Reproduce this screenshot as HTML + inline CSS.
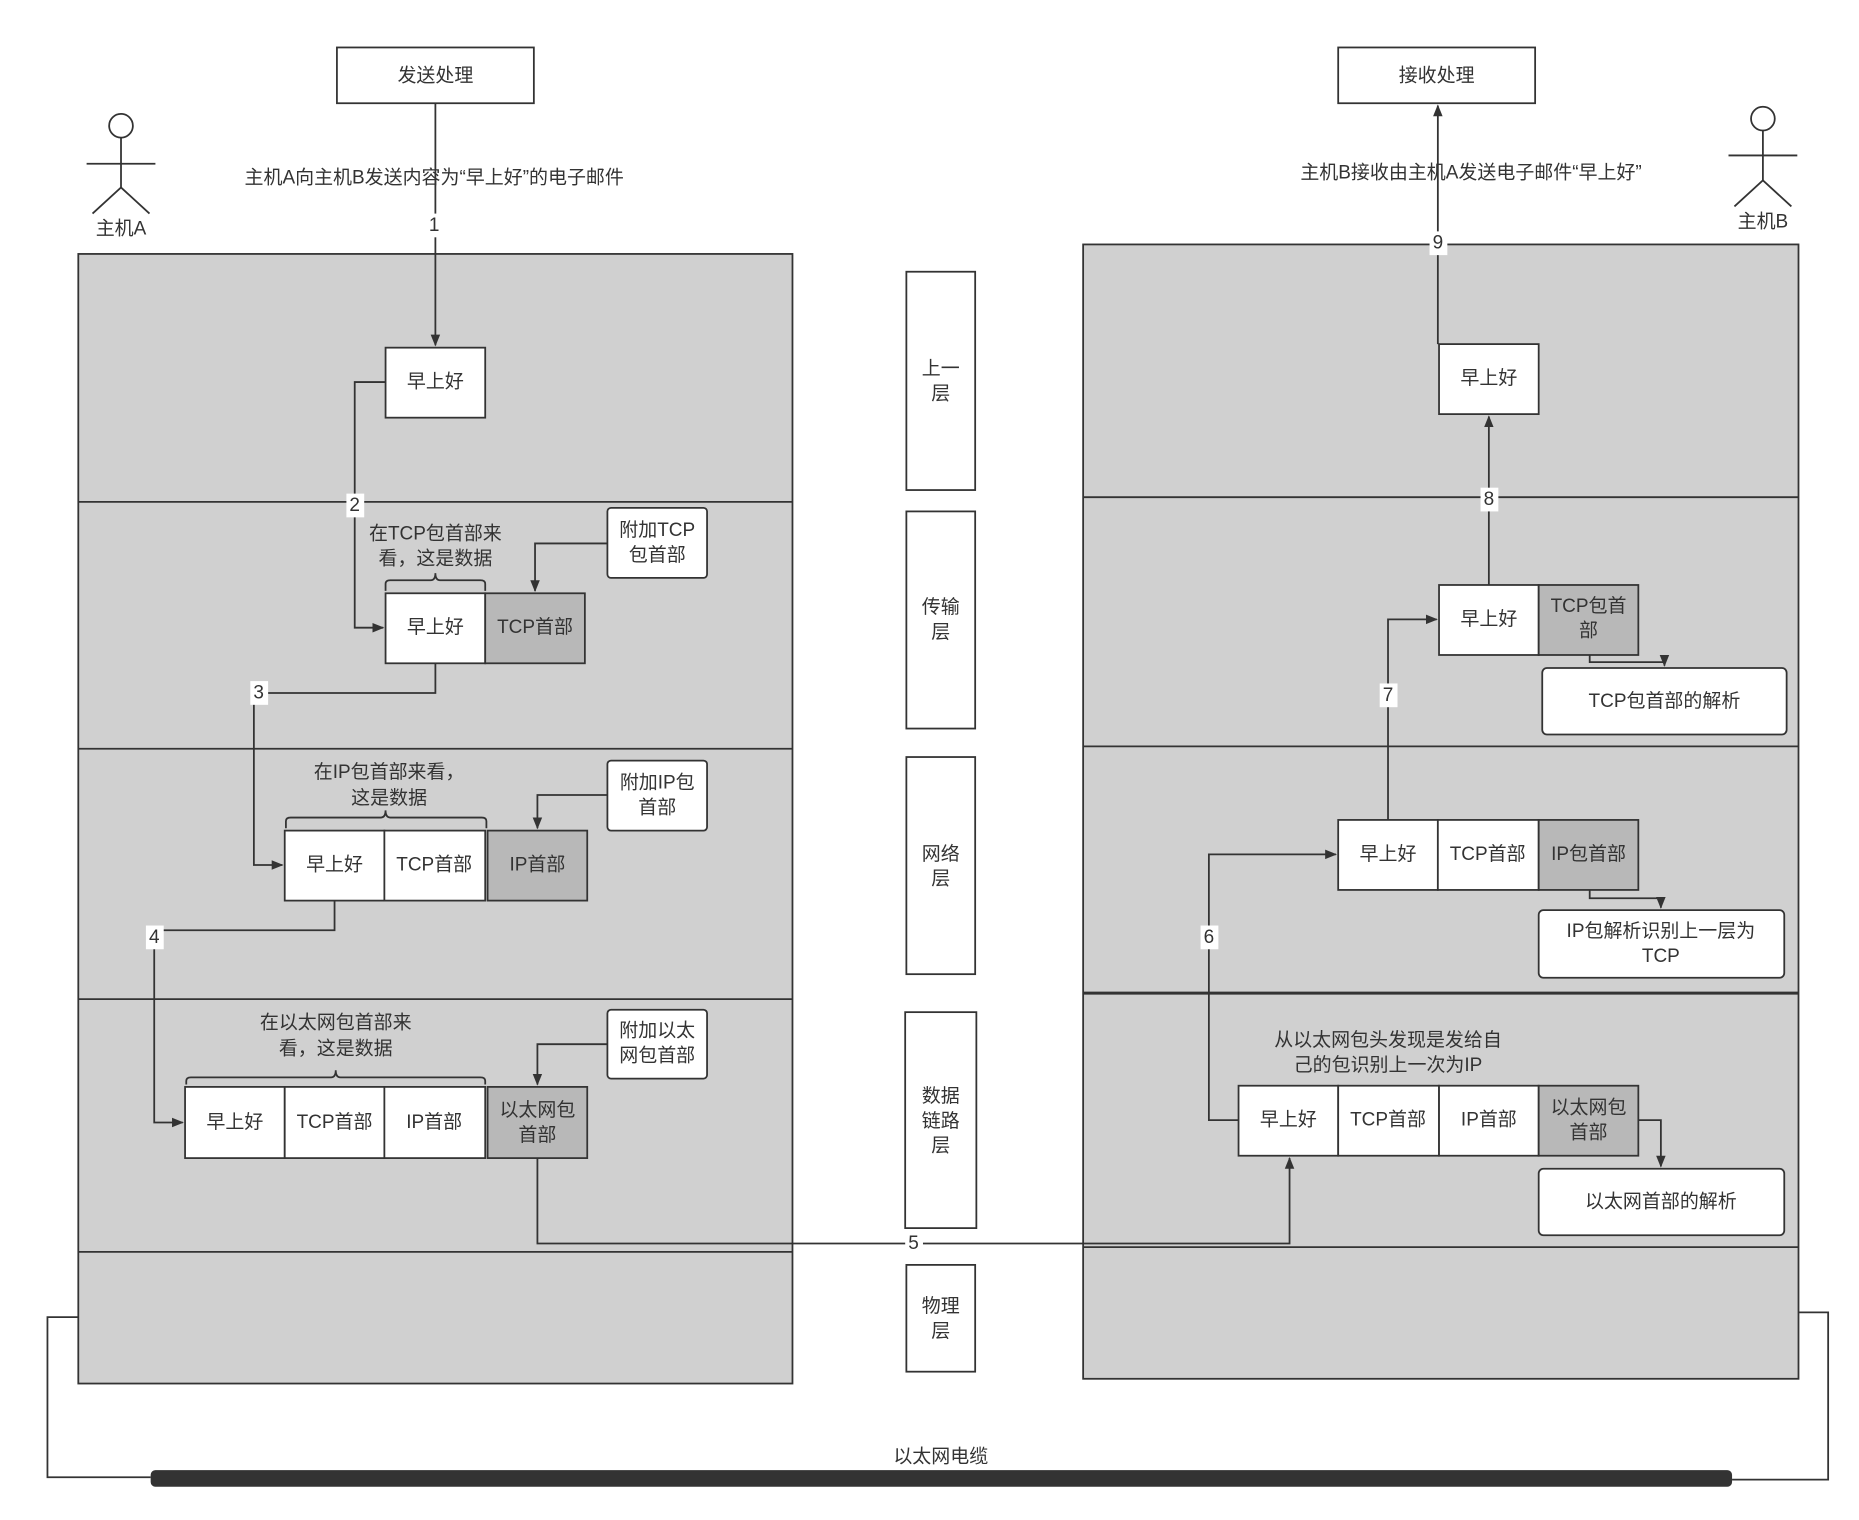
<!DOCTYPE html>
<html><head><meta charset="utf-8"><style>
html,body{margin:0;padding:0;background:#fff;}
svg{display:block;}
text{font-family:"Liberation Sans","Noto Sans CJK SC",sans-serif;font-size:16px;fill:#333;text-anchor:middle;dominant-baseline:central;}
</style></head><body>
<svg width="1859" height="1520" viewBox="0 0 1567 1281" preserveAspectRatio="none" xmlns="http://www.w3.org/2000/svg">
<defs><marker id="a" markerWidth="10" markerHeight="10" refX="9" refY="5" orient="auto" markerUnits="userSpaceOnUse"><path d="M0,1 L10,5 L0,9 Z" fill="#333"/></marker></defs>
<g stroke="#333" stroke-width="1.5" fill="none">
<rect x="66" y="214" width="602" height="952" fill="#d0d0d0"/>
<line x1="66" y1="423" x2="668" y2="423"/><line x1="66" y1="631" x2="668" y2="631"/><line x1="66" y1="842" x2="668" y2="842"/><line x1="66" y1="1055" x2="668" y2="1055"/>
<rect x="913" y="206" width="603" height="956" fill="#d0d0d0"/>
<line x1="913" y1="419" x2="1516" y2="419"/><line x1="913" y1="629" x2="1516" y2="629"/><line x1="913" y1="837" x2="1516" y2="837" stroke-width="2.5"/><line x1="913" y1="1051" x2="1516" y2="1051"/>
<rect x="284" y="40" width="166" height="47" fill="#fff"/><rect x="1128" y="40" width="166" height="47" fill="#fff"/>
<rect x="764" y="229" width="58" height="184" fill="#fff"/><rect x="764" y="431" width="58" height="183" fill="#fff"/><rect x="764" y="638" width="58" height="183" fill="#fff"/><rect x="763" y="853" width="60" height="182" fill="#fff"/><rect x="764" y="1066" width="58" height="90" fill="#fff"/>
<circle cx="102" cy="106" r="10"/><line x1="102" y1="116" x2="102" y2="158"/><line x1="73" y1="138" x2="131" y2="138"/><path d="M78,180 L102,158 L126,180"/>
<circle cx="1486" cy="100" r="10"/><line x1="1486" y1="110" x2="1486" y2="152"/><line x1="1457" y1="131" x2="1515" y2="131"/><path d="M1462,174 L1486,152 L1510,174"/>
<rect x="325" y="293" width="84" height="59" fill="#fff"/>
<rect x="325" y="500" width="84" height="59" fill="#fff"/><rect x="409" y="500" width="84" height="59" fill="#b8b8b8"/>
<rect x="512" y="428" width="84" height="59" rx="3" fill="#fff"/>
<rect x="240" y="700" width="84" height="59" fill="#fff"/><rect x="324" y="700" width="85" height="59" fill="#fff"/><rect x="411" y="700" width="84" height="59" fill="#b8b8b8"/>
<rect x="512" y="641" width="84" height="59" rx="3" fill="#fff"/>
<rect x="156" y="916" width="84" height="60" fill="#fff"/><rect x="240" y="916" width="84" height="60" fill="#fff"/><rect x="324" y="916" width="85" height="60" fill="#fff"/><rect x="411" y="916" width="84" height="60" fill="#b8b8b8"/>
<rect x="512" y="851" width="84" height="58" rx="3" fill="#fff"/>
<path d="M325,498 V492 Q325,489 329,489 H363 Q367,489 367,483 Q367,489 371,489 H405 Q409,489 409,492 V498"/>
<path d="M241,698 V692 Q241,689 245,689 H321 Q325,689 325,683 Q325,689 329,689 H406 Q410,689 410,692 V698"/>
<path d="M157,914 V911 Q157,908 161,908 H279 Q283,908 283,902 Q283,908 287,908 H405 Q409,908 409,911 V914"/>
<rect x="1213" y="290" width="84" height="59" fill="#fff"/>
<rect x="1213" y="493" width="84" height="59" fill="#fff"/><rect x="1297" y="493" width="84" height="59" fill="#b8b8b8"/>
<rect x="1300" y="563" width="206" height="56" rx="4" fill="#fff"/>
<rect x="1128" y="691" width="84" height="59" fill="#fff"/><rect x="1212" y="691" width="85" height="59" fill="#fff"/><rect x="1297" y="691" width="84" height="59" fill="#b8b8b8"/>
<rect x="1297" y="767" width="207" height="57" rx="4" fill="#fff"/>
<rect x="1044" y="915" width="84" height="59" fill="#fff"/><rect x="1128" y="915" width="85" height="59" fill="#fff"/><rect x="1213" y="915" width="84" height="59" fill="#fff"/><rect x="1297" y="915" width="84" height="59" fill="#b8b8b8"/>
<rect x="1297" y="985" width="207" height="56" rx="4" fill="#fff"/>
<path d="M367,87 V291" marker-end="url(#a)"/>
<path d="M325,322 H299 V529 H323" marker-end="url(#a)"/>
<path d="M512,458 H451 V498" marker-end="url(#a)"/>
<path d="M367,559 V584 H214 V729 H238" marker-end="url(#a)"/>
<path d="M512,670 H453 V698" marker-end="url(#a)"/>
<path d="M282,759 V784 H130 V946 H154" marker-end="url(#a)"/>
<path d="M512,880 H453 V914" marker-end="url(#a)"/>
<path d="M453,976 V1048 H1087 V976" marker-end="url(#a)"/>
<path d="M1381,944 H1400 V983" marker-end="url(#a)"/>
<path d="M1044,944 H1019 V720 H1126" marker-end="url(#a)"/>
<path d="M1340,750 V757 H1400 V765" marker-end="url(#a)"/>
<path d="M1170,691 V522 H1211" marker-end="url(#a)"/>
<path d="M1340,552 V558 H1403 V561" marker-end="url(#a)"/>
<path d="M1255,493 V351" marker-end="url(#a)"/>
<path d="M1212,290 V89" marker-end="url(#a)"/>
<path d="M66,1110 H40 V1245 H127"/>
<path d="M1516,1106 H1541 V1247 H1460"/>
</g>
<rect x="127" y="1239" width="1333" height="14" rx="4" fill="#333"/>
<g fill="#fff"><rect x="359" y="180" width="15" height="20"/><rect x="292" y="416" width="15" height="20"/><rect x="211" y="574" width="15" height="20"/><rect x="123" y="780" width="15" height="20"/><rect x="763" y="1038" width="15" height="20"/><rect x="1012" y="780" width="15" height="20"/><rect x="1163" y="576" width="15" height="20"/><rect x="1248" y="411" width="15" height="20"/><rect x="1205" y="195" width="15" height="20"/></g>
<text x="366" y="190">1</text><text x="299" y="426">2</text><text x="218" y="584">3</text><text x="130" y="790">4</text><text x="770" y="1048">5</text><text x="1019" y="790">6</text><text x="1170" y="586">7</text><text x="1255" y="421">8</text><text x="1212" y="205">9</text>
<text x="367" y="64">发送处理</text><text x="1211" y="64">接收处理</text>
<text x="102" y="193">主机A</text><text x="1486" y="187">主机B</text>
<text x="366" y="150">主机A向主机B发送内容为“早上好”的电子邮件</text>
<text x="1240" y="146">主机B接收由主机A发送电子邮件“早上好”</text>
<text x="793" y="311">上一</text><text x="793" y="332">层</text>
<text x="793" y="512">传输</text><text x="793" y="533">层</text>
<text x="793" y="720">网络</text><text x="793" y="741">层</text>
<text x="793" y="924">数据</text><text x="793" y="945">链路</text><text x="793" y="966">层</text>
<text x="793" y="1101">物理</text><text x="793" y="1122">层</text>
<text x="367" y="322">早上好</text>
<text x="367" y="450">在TCP包首部来</text><text x="367" y="471">看，这是数据</text>
<text x="554" y="447">附加TCP</text><text x="554" y="468">包首部</text>
<text x="367" y="529">早上好</text><text x="451" y="529">TCP首部</text>
<text x="328" y="651">在IP包首部来看，</text><text x="328" y="673">这是数据</text>
<text x="554" y="660">附加IP包</text><text x="554" y="681">首部</text>
<text x="282" y="729">早上好</text><text x="366" y="729">TCP首部</text><text x="453" y="729">IP首部</text>
<text x="283" y="862">在以太网包首部来</text><text x="283" y="884">看，这是数据</text>
<text x="554" y="869">附加以太</text><text x="554" y="890">网包首部</text>
<text x="198" y="946">早上好</text><text x="282" y="946">TCP首部</text><text x="366" y="946">IP首部</text>
<text x="453" y="936">以太网包</text><text x="453" y="957">首部</text>
<text x="1255" y="319">早上好</text>
<text x="1255" y="522">早上好</text><text x="1339" y="511">TCP包首</text><text x="1339" y="532">部</text>
<text x="1403" y="591">TCP包首部的解析</text>
<text x="1170" y="720">早上好</text><text x="1254" y="720">TCP首部</text><text x="1339" y="720">IP包首部</text>
<text x="1400" y="785">IP包解析识别上一层为</text><text x="1400" y="806">TCP</text>
<text x="1170" y="877">从以太网包头发现是发给自</text><text x="1170" y="898">己的包识别上一次为IP</text>
<text x="1086" y="944">早上好</text><text x="1170" y="944">TCP首部</text><text x="1255" y="944">IP首部</text>
<text x="1339" y="934">以太网包</text><text x="1339" y="955">首部</text>
<text x="1400" y="1013">以太网首部的解析</text>
<text x="793" y="1228">以太网电缆</text>
</svg>
</body></html>
